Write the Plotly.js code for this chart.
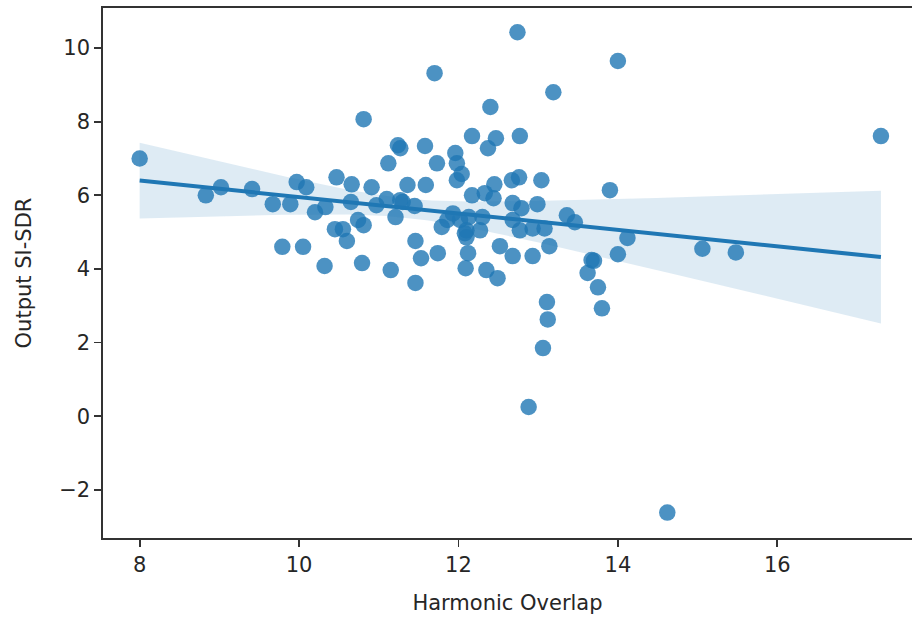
<!DOCTYPE html>
<html>
<head>
<meta charset="utf-8">
<script src="https://cdn.plot.ly/plotly-3.0.1.min.js"></script>
<style>html,body{margin:0;padding:0;background:#fff;}#chart{width:914px;height:617px;}</style>
</head>
<body>
<div id="chart"></div>
<script>
// Harmonic overlap (x) and output SI-SDR (y)
const harmonicOverlap = [
  8.00, 8.83, 9.02, 9.41, 9.67, 9.89, 9.97, 10.09, 10.20, 10.33,
  10.47, 10.66, 10.91, 10.65, 10.97, 11.10, 11.27, 11.21, 10.74, 10.81,
  10.45, 10.55, 10.60, 9.79, 10.05, 10.32, 10.79, 11.15, 10.81, 11.24,
  11.27, 11.12, 11.36, 11.59, 11.58, 11.73, 11.70, 11.96, 11.98, 12.04,
  11.98, 12.17, 12.47, 12.37, 12.77, 12.40, 12.74, 14.00, 13.19, 12.17,
  12.33, 12.45, 12.44, 12.67, 12.76, 13.04, 13.90, 11.30, 11.45, 12.68,
  12.79, 12.99, 11.93, 11.86, 11.79, 12.02, 12.10, 12.27, 12.30, 12.13,
  12.68, 12.77, 12.93, 13.08, 13.36, 13.46, 14.12, 14.00, 11.46, 11.53,
  11.74, 12.12, 12.10, 12.52, 12.68, 12.93, 13.14, 13.67, 13.62, 13.75,
  13.80, 11.46, 12.09, 12.35, 12.49, 13.11, 13.12, 13.06, 12.88, 14.62,
  15.06, 15.48, 17.30, 13.70, 12.08
];
const outputSISDR = [
  7.00, 6.00, 6.22, 6.17, 5.76, 5.76, 6.36, 6.22, 5.54, 5.68,
  6.49, 6.30, 6.22, 5.82, 5.73, 5.90, 5.87, 5.41, 5.33, 5.19,
  5.08, 5.08, 4.76, 4.60, 4.60, 4.08, 4.16, 3.97, 8.07, 7.36,
  7.28, 6.87, 6.28, 6.28, 7.34, 6.87, 9.32, 7.15, 6.87, 6.58,
  6.41, 7.61, 7.55, 7.28, 7.61, 8.40, 10.43, 9.65, 8.80, 6.00,
  6.06, 6.30, 5.92, 6.41, 6.49, 6.41, 6.14, 5.82, 5.71, 5.79,
  5.65, 5.76, 5.51, 5.33, 5.14, 5.33, 5.05, 5.05, 5.41, 5.41,
  5.33, 5.05, 5.10, 5.10, 5.46, 5.27, 4.84, 4.40, 4.76, 4.29,
  4.43, 4.43, 4.86, 4.62, 4.35, 4.35, 4.62, 4.24, 3.89, 3.50,
  2.93, 3.62, 4.02, 3.97, 3.75, 3.10, 2.63, 1.85, 0.25, -2.62,
  4.55, 4.45, 7.61, 4.22, 4.97
];
const xTicks = [8, 10, 12, 14, 16];
const yTicks = [-2, 0, 2, 4, 6, 8, 10];

// Linear regression fit with a robust (HC2) 95% confidence band, computed from the data
const n = harmonicOverlap.length;
const xm = harmonicOverlap.reduce((a, b) => a + b, 0) / n;
const ym = outputSISDR.reduce((a, b) => a + b, 0) / n;
let sxx = 0, sxy = 0;
for (let i = 0; i < n; i++) {
  sxx += (harmonicOverlap[i] - xm) ** 2;
  sxy += (harmonicOverlap[i] - xm) * (outputSISDR[i] - ym);
}
const slope = sxy / sxx;
const intercept = ym - slope * xm;
let sw = 0, swd = 0, swdd = 0;
for (let i = 0; i < n; i++) {
  const d = harmonicOverlap[i] - xm;
  const e = outputSISDR[i] - (intercept + slope * harmonicOverlap[i]);
  const h = 1 / n + d * d / sxx;
  const w = e * e / (1 - h);
  sw += w; swd += w * d; swdd += w * d * d;
}
const V00 = sw / (n * n), V01 = swd / (n * sxx), V11 = swdd / (sxx * sxx);
const tcrit = 1.983;
const xmin = Math.min(...harmonicOverlap), xmax = Math.max(...harmonicOverlap);
const gx = [], gy = [], gu = [], gl = [];
for (let k = 0; k < 100; k++) {
  const x = xmin + (xmax - xmin) * k / 99;
  const y = intercept + slope * x;
  const dd = x - xm;
  const se = Math.sqrt(V00 + 2 * dd * V01 + dd * dd * V11);
  gx.push(x); gy.push(y); gu.push(y + tcrit * se); gl.push(y - tcrit * se);
}

const blue = '#1f77b4';
const traces = [
  {x: harmonicOverlap, y: outputSISDR, type: 'scatter', mode: 'markers',
   marker: {size: 16.5, color: blue, opacity: 0.8, line: {width: 0}}, hoverinfo: 'x+y'},
  {x: gx, y: gl, type: 'scatter', mode: 'lines', line: {width: 0, color: blue}, hoverinfo: 'skip'},
  {x: gx, y: gu, type: 'scatter', mode: 'lines', line: {width: 0, color: blue},
   fill: 'tonexty', fillcolor: 'rgba(31,119,180,0.15)', hoverinfo: 'skip'},
  {x: gx, y: gy, type: 'scatter', mode: 'lines', line: {width: 4, color: blue}, hoverinfo: 'skip'}
];

const font = {family: 'DejaVu Sans, sans-serif', size: 21, color: '#262626'};
const layout = {
  width: 914, height: 617,
  margin: {l: 103, r: 2, t: 8, b: 79},
  paper_bgcolor: '#fff', plot_bgcolor: '#fff',
  showlegend: false,
  font: font,
  xaxis: {
    range: [7.54, 17.69], tickvals: xTicks, ticktext: xTicks.map(String),
    showgrid: false, zeroline: false, showline: true, mirror: true,
    linecolor: '#333', linewidth: 1.7, ticks: 'outside', ticklen: 7, tickwidth: 1.7, tickcolor: '#333',
    tickfont: font,
    title: {text: 'Harmonic Overlap', font: font, standoff: 19}
  },
  yaxis: {
    range: [-3.31, 11.09], tickvals: yTicks, ticktext: yTicks.map(v => v < 0 ? '\u2212' + Math.abs(v) : String(v)),
    showgrid: false, zeroline: false, showline: true,
    linecolor: '#333', linewidth: 1.7, ticks: 'outside', ticklen: 7, tickwidth: 1.7, tickcolor: '#333',
    tickfont: font,
    title: {text: 'Output SI-SDR', font: font, standoff: 22}
  }
};
Plotly.newPlot('chart', traces, layout, {displayModeBar: false, staticPlot: true});
</script>
</body>
</html>
